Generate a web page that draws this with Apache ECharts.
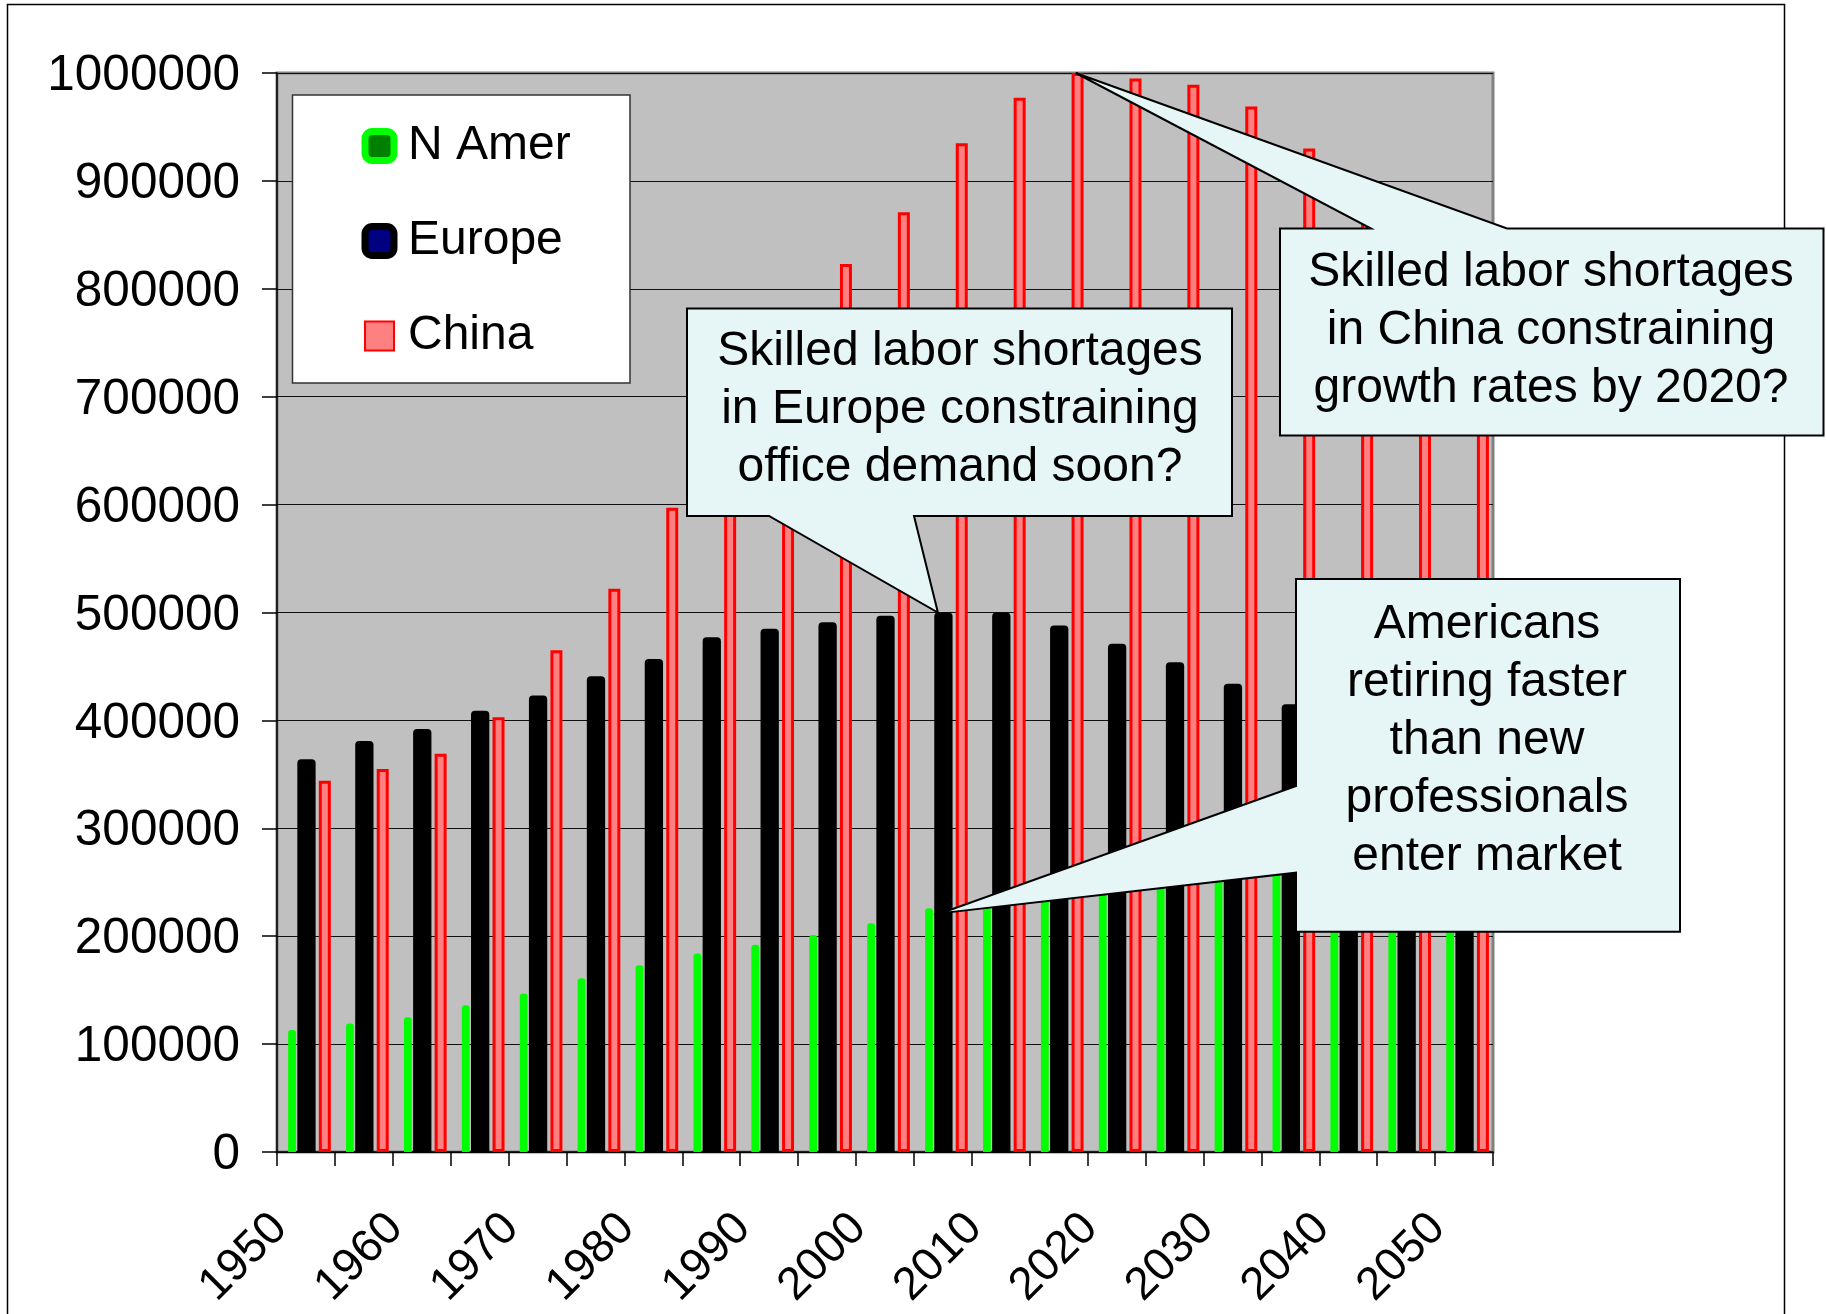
<!DOCTYPE html>
<html>
<head>
<meta charset="utf-8">
<title>Professional workforce 1950-2050</title>
<script src="https://cdn.jsdelivr.net/npm/echarts@6/dist/echarts.min.js"></script>
<style>
  html, body { margin: 0; padding: 0; background: #fff; }
  #main { width: 1826px; height: 1314px; }
</style>
</head>
<body>
<div id="main"></div>
<script>
// categories (every 5 years, labels shown every 10)
var years = ['1950', '1955', '1960', '1965', '1970', '1975', '1980', '1985', '1990', '1995', '2000',
             '2005', '2010', '2015', '2020', '2025', '2030', '2035', '2040', '2045', '2050'];

// series values
var nAmer  = [113000, 119000, 125000, 136000, 147000, 161000, 173000, 184000, 192000, 201000, 212000,
              226000, 231000, 236000, 241000, 247000, 253000, 258000, 262000, 265000, 268000];
var europe = [364000, 381000, 392000, 409000, 423000, 441000, 457000, 477000, 485000, 491000, 497000,
              500000, 500000, 488000, 471000, 454000, 434000, 415000, 395000, 375000, 355000];
var china  = [344000, 355000, 369000, 403000, 465000, 522000, 597000, 670000, 750000, 823000, 871000,
              935000, 977000, 1000000, 995000, 989000, 969000, 930000, 880000, 830000, 780000];

var FONT = '"Liberation Sans", Arial, sans-serif';
var NOTE_FILL = '#E6F5F5';
var GAP = '17.5%';

var chart = echarts.init(document.getElementById('main'));

var option = {
    animation: false,
    backgroundColor: '#fff',
    grid: {
        left: 277, top: 73, width: 1216, height: 1079,
        show: true, backgroundColor: '#C0C0C0', borderColor: '#808080', borderWidth: 3,
        outerBoundsMode: 'none'
    },
    legend: {
        orient: 'vertical', left: 361.5, top: 122, padding: 0,
        itemWidth: 29, itemHeight: 29, itemGap: 47,
        selectedMode: false,
        textStyle: { fontFamily: FONT, fontSize: 48, color: '#000', padding: [0, 0, 0, 9] },
        data: [
            { name: 'N Amer', icon: 'roundRect', itemStyle: { color: '#008000', borderColor: '#00FF00', borderWidth: 7 } },
            { name: 'Europe', icon: 'roundRect', itemStyle: { color: '#000080', borderColor: '#000000', borderWidth: 7 } },
            { name: 'China', icon: 'rect', itemStyle: { color: '#FF8080', borderColor: '#FF0000', borderWidth: 2 } }
        ],
        z: 6
    },
    xAxis: {
        type: 'category',
        data: years,
        boundaryGap: true,
        axisLine: { lineStyle: { color: '#000', width: 1.5 } },
        axisTick: { show: true, interval: 0, length: 14, lineStyle: { color: '#000', width: 1.5 } },
        axisLabel: {
            interval: 1, rotate: 45, margin: 43, padding: [0, 37, 0, 0],
            fontSize: 46, fontFamily: FONT, color: '#000'
        },
        splitLine: { show: false }
    },
    yAxis: {
        type: 'value', min: 0, max: 1000000, interval: 100000,
        axisLine: { show: true, lineStyle: { color: '#000', width: 1.5 } },
        axisTick: { show: true, length: 15, lineStyle: { color: '#000', width: 1.5 } },
        axisLabel: {
            margin: 37, fontSize: 49.5, fontFamily: FONT, color: '#000',
            verticalAlign: 'top', lineHeight: 7,
            formatter: function (v) { return String(v); }
        },
        splitLine: { show: true, lineStyle: { color: '#111', width: 1 } }
    },
    series: [
        // empty spacer: the original groups sit a little right of the band centre
        { name: 'spacer', type: 'bar', data: [], barWidth: 6, barGap: GAP, silent: true },
        {
            name: 'N Amer', type: 'bar', data: nAmer,
            barWidth: 7.8, barGap: GAP,
            itemStyle: { color: '#00FF00', borderRadius: [3, 3, 0, 0] }
        },
        {
            name: 'Europe', type: 'bar', data: europe,
            barWidth: 18.3, barGap: GAP,
            itemStyle: { color: '#000000', borderRadius: [4, 4, 0, 0] }
        },
        {
            name: 'China', type: 'bar', data: china,
            barWidth: 12, barGap: GAP,
            itemStyle: { color: '#FF8080', borderColor: '#FF0000', borderWidth: 3 }
        }
    ]
};

chart.setOption(option);

// callout pointers are anchored on the bars they talk about
function barTop(year, values) {
    var i = years.indexOf(year);
    return chart.convertToPixel({ xAxisIndex: 0, yAxisIndex: 0 }, [i, values[i]]);
}

var tChina = barTop('2015', china);
tChina = [tChina[0] + 17, tChina[1]];
var tEurope = barTop('2005', europe);
tEurope = [tEurope[0] - 5, tEurope[1]];
var tAmer = barTop('2005', nAmer);
tAmer = [tAmer[0] - 1.5, tAmer[1] + 5];

function note(points, tx, ty, text) {
    return [
        {
            type: 'polygon', z: 10,
            shape: { points: points },
            style: { fill: NOTE_FILL, stroke: '#000', lineWidth: 2 }
        },
        {
            type: 'text', z: 11, x: tx, y: ty,
            style: {
                text: text, fill: '#000', fontFamily: FONT, fontSize: 48,
                lineHeight: 58, align: 'center', verticalAlign: 'middle'
            }
        }
    ];
}

var graphics = [
    // outer frame
    {
        type: 'rect', z: 0, silent: true,
        shape: { x: 7.5, y: 4.5, width: 1777, height: 1340 },
        style: { fill: null, stroke: '#000', lineWidth: 1.5 }
    },
    // legend box
    {
        type: 'rect', z: 3,
        shape: { x: 292.5, y: 95, width: 337.5, height: 288 },
        style: { fill: '#fff', stroke: '#333', lineWidth: 1.5 }
    }
];

graphics = graphics.concat(note(
    [[1280, 228.5], [1371, 228.5], tChina, [1507, 228.5], [1823.5, 228.5], [1823.5, 435.5], [1280, 435.5]],
    1551, 331,
    'Skilled labor shortages\nin China constraining\ngrowth rates by 2020?'
));
graphics = graphics.concat(note(
    [[687, 308.6], [1232, 308.6], [1232, 516], [914, 516], tEurope, [769, 516], [687, 516]],
    960, 410,
    'Skilled labor shortages\nin Europe constraining\noffice demand soon?'
));
graphics = graphics.concat(note(
    [[1296, 579], [1680, 579], [1680, 931.7], [1296, 931.7], [1296, 872.7], tAmer, [1296, 786]],
    1487, 740.5,
    'Americans\nretiring faster\nthan new\nprofessionals\nenter market'
));

chart.setOption({ graphic: graphics });
</script>
</body>
</html>
